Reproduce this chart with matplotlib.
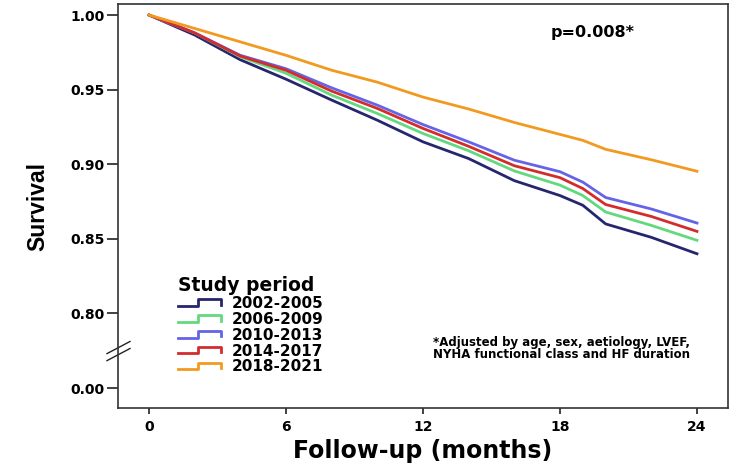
import numpy as np
import matplotlib.pyplot as plt
from matplotlib.lines import Line2D
from matplotlib.legend_handler import HandlerBase

plt.switch_backend('Agg')

months = [0, 2, 4, 6, 8, 10, 12, 14, 16, 18, 19, 20, 22, 24]

surv_2002 = [1.000, 0.9866, 0.970, 0.957, 0.943, 0.9295, 0.915, 0.9038, 0.889, 0.879, 0.8725, 0.860, 0.851, 0.840]
surv_2006 = [1.000, 0.988, 0.972, 0.961, 0.9463, 0.934, 0.9206, 0.909, 0.8955, 0.886, 0.879, 0.868, 0.859, 0.849]
surv_2010 = [1.000, 0.988, 0.973, 0.964, 0.9512, 0.9396, 0.9266, 0.915, 0.9027, 0.895, 0.888, 0.8777, 0.870, 0.8606]
surv_2014 = [1.000, 0.988, 0.9725, 0.963, 0.949, 0.9374, 0.924, 0.912, 0.899, 0.891, 0.8837, 0.873, 0.865, 0.855]
surv_2018 = [1.000, 0.991, 0.982, 0.973, 0.963, 0.955, 0.945, 0.937, 0.928, 0.920, 0.916, 0.910, 0.903, 0.8953]

periods = ['2002-2005', '2006-2009', '2010-2013', '2014-2017', '2018-2021']
colors = ['#26266e', '#62d97e', '#6464e6', '#d42c2c', '#f29a1f']

x_ticks = [0, 6, 12, 18, 24]
# broken axis: the "0.00" tick sits just below 0.80
y_ticks = [0.75, 0.80, 0.85, 0.90, 0.95, 1.00]
y_ticklabels = ['0.00', '0.80', '0.85', '0.90', '0.95', '1.00']

FONT = ['DejaVu Sans']


class StepHandler(HandlerBase):
    def create_artists(self, legend, orig_handle, xdescent, ydescent,
                       width, height, fontsize, trans):
        xs = np.array([0, 0.47, 0.47, 1.0, 1.0]) * width - xdescent
        ys = np.array([0.2, 0.2, 0.8, 0.8, 0.3]) * height - ydescent
        line = Line2D(xs, ys, color=orig_handle.get_color(),
                      lw=orig_handle.get_linewidth())
        line.set_transform(trans)
        return [line]


fig = plt.figure(figsize=(7.5, 4.69), dpi=100)
ax = fig.add_axes([0.1573, 0.130, 0.8134, 0.8615])

series = [surv_2002, surv_2006, surv_2010, surv_2014, surv_2018]
handles = []
for vals, lab, col in zip(series, periods, colors):
    h, = ax.plot(months, vals, color=col, lw=2.0, label=lab,
                 solid_joinstyle='round')
    handles.append(h)

ax.set_xlim(-1.36, 25.36)
ax.set_ylim(0.7366, 1.0074)
ax.set_xticks(x_ticks)
ax.set_xticklabels([str(t) for t in x_ticks], fontsize=10,
                   fontweight='bold', family=FONT)
ax.set_yticks(y_ticks)
ax.set_yticklabels(y_ticklabels, fontsize=10, fontweight='bold',
                   family=FONT)
ax.tick_params(axis='y', length=8, width=1.3, pad=1.5, color='#333333')
ax.tick_params(axis='x', length=4.5, width=1.3, pad=4.0, color='#333333')

for sp in ax.spines.values():
    sp.set_linewidth(1.2)
    sp.set_color('#333333')

ax.set_xlabel('Follow-up (months)', fontsize=17, fontweight='bold',
              family=FONT, labelpad=4)
ax.set_ylabel('Survival', fontsize=16.5, fontweight='bold',
              family=['Liberation Sans'], labelpad=15)

# axis break marks
yb = 0.141
for off in (-0.0087, 0.0087):
    ax.plot([-0.018, 0.0197], [yb + off - 0.015, yb + off + 0.015],
            transform=ax.transAxes, color='#222222', lw=1.0,
            clip_on=False)

ax.text(0.778, 0.929, 'p=0.008*', transform=ax.transAxes,
        fontsize=11.5, fontweight='bold', family=FONT,
        ha='center', va='center')
ax.text(0.516, 0.147,
        '*Adjusted by age, sex, aetiology, LVEF,\n'
        'NYHA functional class and HF duration',
        transform=ax.transAxes, fontsize=8.5, fontweight='bold',
        family=FONT, ha='left', va='center', linespacing=0.95)

leg = ax.legend(handles=handles, labels=periods,
                handler_map={Line2D: StepHandler()},
                loc='upper left', bbox_to_anchor=(0.098, 0.327),
                frameon=False, borderpad=0, borderaxespad=0,
                handlelength=2.8, handletextpad=0.75,
                labelspacing=0.06, alignment='left',
                title='Study period',
                prop={'family': FONT, 'weight': 'bold', 'size': 11},
                title_fontproperties={'family': FONT, 'weight': 'bold',
                                      'size': 13.5})

plt.savefig('out.png', dpi=100)
plt.close('all')
